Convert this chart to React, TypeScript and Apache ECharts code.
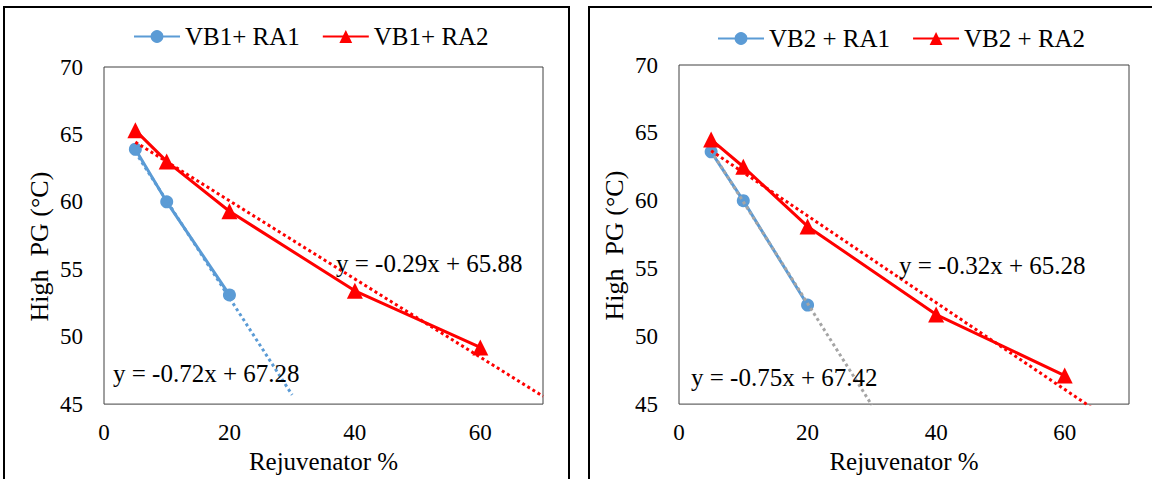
import React, { useEffect, useRef } from "react";
import * as echarts from "echarts";

const FONT = "Liberation Serif";

// Left panel data
const vb1ra1: [number, number][] = [[5, 63.9], [10, 60.0], [20, 53.1]];
const vb1ra2: [number, number][] = [[5, 65.3], [10, 63.0], [20, 59.3], [40, 53.4], [60, 49.2]];
const trendVb1ra1: [number, number][] = [[5, 63.68], [30, 45.68]];
const trendVb1ra2: [number, number][] = [[5, 64.43], [70, 45.58]];

// Right panel data
const vb2ra1: [number, number][] = [[5, 63.6], [10, 60.0], [20, 52.3]];
const vb2ra2: [number, number][] = [[5, 64.5], [10, 62.5], [20, 58.1], [40, 51.6], [60, 47.1]];
const trendVb2ra1: [number, number][] = [[5, 63.67], [30, 44.92]];
const trendVb2ra2: [number, number][] = [[5, 63.68], [70, 42.88]];

const leftNames = ["VB1+ RA1", "VB1+ RA2"];
const rightNames = ["VB2 + RA1", "VB2 + RA2"];
const equations = ["y = -0.72x + 67.28", "y = -0.29x + 65.88", "y = -0.75x + 67.42", "y = -0.32x + 65.28"];

const xTitle = "Rejuvenator %";
const yTitle = "High  PG (°C)";

const BLUE = "#5b9bd5";
const RED = "#ff0000";
const GREY = "#a5a5a5";

function xAxisCfg(gridIndex: number) {
  return {
    type: "value" as const,
    gridIndex,
    min: 0,
    max: 70,
    interval: 20,
    axisLine: { show: false },
    axisTick: { show: false },
    splitLine: { show: false },
    axisLabel: { showMaxLabel: false, margin: 17, fontSize: 23, fontFamily: FONT, color: "#000" },
    name: xTitle,
    nameLocation: "middle" as const,
    nameGap: 44,
    nameTextStyle: { fontSize: 25, fontFamily: FONT, color: "#000" },
  };
}

function yAxisCfg(gridIndex: number) {
  return {
    type: "value" as const,
    gridIndex,
    min: 45,
    max: 70,
    interval: 5,
    axisLine: { show: false },
    axisTick: { show: false },
    splitLine: { show: false },
    axisLabel: { margin: 21, fontSize: 23, fontFamily: FONT, color: "#000" },
    name: yTitle,
    nameLocation: "middle" as const,
    nameGap: 52,
    nameTextStyle: { fontSize: 26, fontFamily: FONT, color: "#000", padding: [0, 22, 0, 0] },
  };
}

function dataSeries(name: string, data: [number, number][], idx: number, color: string, symbol: string, size: number) {
  return {
    type: "line" as const,
    name,
    xAxisIndex: idx,
    yAxisIndex: idx,
    data,
    symbol,
    symbolSize: size,
    showSymbol: true,
    lineStyle: { color, width: 3 },
    itemStyle: { color },
    z: 3,
  };
}

function trendSeries(data: [number, number][], idx: number, color: string) {
  return {
    type: "line" as const,
    xAxisIndex: idx,
    yAxisIndex: idx,
    data,
    symbol: "none",
    silent: true,
    clip: true,
    lineStyle: { color, width: 3, type: [3, 3], cap: "butt" },
    z: 4,
  };
}

export default function App() {
  const ref = useRef<HTMLDivElement>(null);
  useEffect(() => {
    if (!ref.current) return;
    const chart = echarts.init(ref.current, undefined, { renderer: "svg" });
    const legendText = { fontSize: 25, fontFamily: FONT, color: "#000" };
    const eqStyle = { fontSize: 25, fontFamily: FONT, fill: "#000", verticalAlign: "middle" };
    chart.setOption({
      animation: false,
      backgroundColor: "#fff",
      textStyle: { fontFamily: FONT },
      grid: [
        { left: 104, top: 67, width: 439, height: 342, show: true, borderColor: "#404040", borderWidth: 1 },
        { left: 679, top: 65, width: 450, height: 344, show: true, borderColor: "#404040", borderWidth: 1 },
      ],
      xAxis: [xAxisCfg(0), xAxisCfg(1)],
      yAxis: [yAxisCfg(0), yAxisCfg(1)],
      legend: [
        { left: 133, top: 24, padding: 0, itemWidth: 46, itemHeight: 16, itemGap: 22, data: leftNames, textStyle: legendText },
        { left: 717, top: 26, padding: 0, itemWidth: 46, itemHeight: 16, itemGap: 22, data: rightNames, textStyle: legendText },
      ],
      series: [
        dataSeries(leftNames[0], vb1ra1, 0, BLUE, "circle", 13),
        dataSeries(leftNames[1], vb1ra2, 0, RED, "triangle", 16),
        trendSeries(trendVb1ra1, 0, BLUE),
        trendSeries(trendVb1ra2, 0, RED),
        dataSeries(rightNames[0], vb2ra1, 1, BLUE, "circle", 13),
        dataSeries(rightNames[1], vb2ra2, 1, RED, "triangle", 16),
        trendSeries(trendVb2ra1, 1, GREY),
        trendSeries(trendVb2ra2, 1, RED),
      ],
      graphic: [
        { type: "rect", shape: { x: 4, y: 7, width: 565, height: 490 }, style: { fill: "none", stroke: "#000", lineWidth: 2 }, silent: true },
        { type: "rect", shape: { x: 589, y: 7, width: 580, height: 490 }, style: { fill: "none", stroke: "#000", lineWidth: 2 }, silent: true },
        { type: "text", x: 113, y: 373, style: { text: equations[0], ...eqStyle }, z: 10 },
        { type: "text", x: 336, y: 263, style: { text: equations[1], ...eqStyle }, z: 10 },
        { type: "text", x: 691, y: 377, style: { text: equations[2], ...eqStyle }, z: 10 },
        { type: "text", x: 899, y: 265, style: { text: equations[3], ...eqStyle }, z: 10 },
      ],
    });
    return () => chart.dispose();
  }, []);
  return <div ref={ref} style={{ position: "absolute", left: 0, top: 0, width: 1152, height: 479 }} />;
}
